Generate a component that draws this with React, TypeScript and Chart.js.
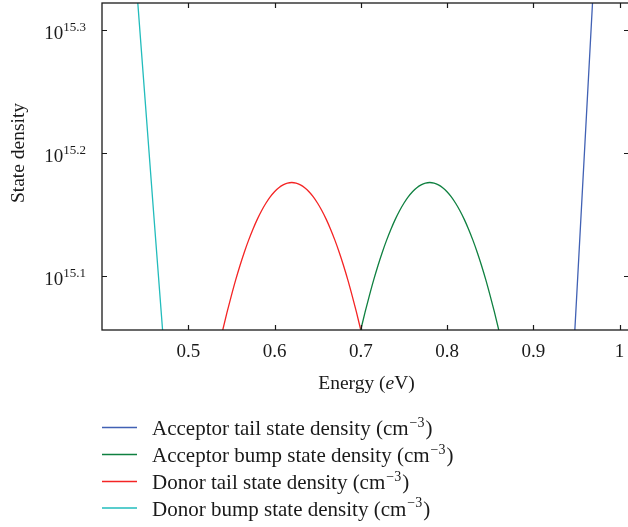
import React, { useEffect, useRef } from 'react';
import { Chart, registerables } from 'chart.js';

Chart.register(...registerables);

// ---- data (energy in eV, density as log10 exponent) ----
const acceptorTailE = [0.94, 0.95, 0.96, 0.97, 0.98];
const acceptorTailLog = [14.95, 15.079, 15.209, 15.339, 15.469];

const acceptorBumpE = [
  0.7, 0.705, 0.71, 0.715, 0.72, 0.725, 0.73, 0.735, 0.74, 0.745, 0.75, 0.755, 0.76, 0.765, 0.77, 0.775,
  0.78, 0.785, 0.79, 0.795, 0.8, 0.805, 0.81, 0.815, 0.82, 0.825, 0.83, 0.835, 0.84, 0.845, 0.85, 0.855, 0.86, 0.865,
];
const acceptorBumpLog = [
  15.056, 15.0705, 15.084, 15.0968, 15.1085, 15.1193, 15.1291, 15.138, 15.146, 15.153, 15.1591, 15.1643, 15.1685, 15.1718, 15.1741, 15.1755,
  15.176, 15.1755, 15.1741, 15.1718, 15.1685, 15.1643, 15.1591, 15.153, 15.146, 15.138, 15.1291, 15.1193, 15.1085, 15.0968, 15.084, 15.0705, 15.056, 15.0405,
];

const donorTailE = [
  0.535, 0.54, 0.545, 0.55, 0.555, 0.56, 0.565, 0.57, 0.575, 0.58, 0.585, 0.59, 0.595, 0.6, 0.605, 0.61, 0.615,
  0.62, 0.625, 0.63, 0.635, 0.64, 0.645, 0.65, 0.655, 0.66, 0.665, 0.67, 0.675, 0.68, 0.685, 0.69, 0.695, 0.7,
];
const donorTailLog = [
  15.0405, 15.056, 15.0705, 15.084, 15.0968, 15.1085, 15.1193, 15.1291, 15.138, 15.146, 15.153, 15.1591, 15.1643, 15.1685, 15.1718, 15.1741, 15.1755,
  15.176, 15.1755, 15.1741, 15.1718, 15.1685, 15.1643, 15.1591, 15.153, 15.146, 15.138, 15.1291, 15.1193, 15.1085, 15.0968, 15.084, 15.0705, 15.056,
];

const donorBumpE = [0.43, 0.44, 0.45, 0.46, 0.47, 0.48];
const donorBumpLog = [15.429, 15.336, 15.243, 15.15, 15.058, 14.965];

const seriesNames = [
  'Acceptor tail state density',
  'Acceptor bump state density',
  'Donor tail state density',
  'Donor bump state density',
];
const seriesColors = ['#4161b4', '#0f8040', '#f42424', '#22bcbc'];

const xTickValues = [0.5, 0.6, 0.7, 0.8, 0.9, 1.0];
const xTickLabels = ['0.5', '0.6', '0.7', '0.8', '0.9', '1'];
const yTickValues = [15.1, 15.2, 15.3];
const yTickExponents = ['15.1', '15.2', '15.3'];

const X_MIN = 0.4;
const X_MAX = 1.011;
const Y_MIN = 15.056;
const Y_MAX = 15.322;

const FONT = '"Liberation Serif", "DejaVu Serif", serif';

const pairs = (xs: number[], ys: number[]) => xs.map((x, i) => ({ x, y: ys[i] }));

const decorPlugin = {
  id: 'decor',
  afterDraw(chart: any) {
    const ctx = chart.ctx as CanvasRenderingContext2D;
    const { left, right, top, bottom } = chart.chartArea;
    const xs = chart.scales.x;
    const ys = chart.scales.y;
    ctx.save();
    // frame
    ctx.strokeStyle = '#1a1a1a';
    ctx.lineWidth = 1.3;
    ctx.strokeRect(left, top, right - left, bottom - top);
    // ticks (inward)
    const tl = 5;
    ctx.lineWidth = 1.2;
    ctx.beginPath();
    xTickValues.forEach((v) => {
      const px = Math.round(xs.getPixelForValue(v)) + 0.5;
      ctx.moveTo(px, bottom);
      ctx.lineTo(px, bottom - tl);
      ctx.moveTo(px, top);
      ctx.lineTo(px, top + tl);
    });
    yTickValues.forEach((v) => {
      const py = Math.round(ys.getPixelForValue(v)) + 0.5;
      ctx.moveTo(left, py);
      ctx.lineTo(left + tl, py);
      ctx.moveTo(right, py);
      ctx.lineTo(right - tl, py);
    });
    ctx.stroke();

    ctx.fillStyle = '#1a1a1a';
    // x tick labels
    ctx.font = `19px ${FONT}`;
    ctx.textAlign = 'center';
    ctx.textBaseline = 'middle';
    xTickValues.forEach((v, i) => {
      ctx.fillText(xTickLabels[i], xs.getPixelForValue(v), bottom + 22);
    });
    // x title
    ctx.textAlign = 'left';
    ctx.textBaseline = 'alphabetic';
    const fs = '19.5px';
    const t1 = 'Energy (';
    const t2 = 'e';
    const t3 = 'V)';
    ctx.font = `${fs} ${FONT}`;
    const w1 = ctx.measureText(t1).width;
    const w3 = ctx.measureText(t3).width;
    ctx.font = `italic ${fs} ${FONT}`;
    const w2 = ctx.measureText(t2).width;
    const cx = 366.5;
    let sx = cx - (w1 + w2 + w3) / 2;
    const ty = bottom + 59;
    ctx.font = `${fs} ${FONT}`;
    ctx.fillText(t1, sx, ty);
    sx += w1;
    ctx.font = `italic ${fs} ${FONT}`;
    ctx.fillText(t2, sx, ty);
    sx += w2;
    ctx.font = `${fs} ${FONT}`;
    ctx.fillText(t3, sx, ty);

    // y tick labels: 10^exp
    yTickValues.forEach((v, i) => {
      const py = ys.getPixelForValue(v);
      ctx.font = `13px ${FONT}`;
      const we = ctx.measureText(yTickExponents[i]).width;
      ctx.font = `19px ${FONT}`;
      const wb = ctx.measureText('10').width;
      const endX = left - 16;
      ctx.textAlign = 'left';
      ctx.fillText('10', endX - we - wb, py + 9);
      ctx.font = `13px ${FONT}`;
      ctx.fillText(yTickExponents[i], endX - we, py + 1);
    });

    // y title
    ctx.save();
    ctx.translate(24, 153);
    ctx.rotate(-Math.PI / 2);
    ctx.font = `19.5px ${FONT}`;
    ctx.textAlign = 'center';
    ctx.textBaseline = 'alphabetic';
    ctx.fillText('State density', 0, 0);
    ctx.restore();

    // legend
    const rows = [427.5, 454.5, 481.5, 508];
    seriesNames.forEach((name, i) => {
      const y = rows[i];
      ctx.strokeStyle = seriesColors[i];
      ctx.lineWidth = 1.5;
      ctx.beginPath();
      ctx.moveTo(102, y);
      ctx.lineTo(137, y);
      ctx.stroke();
      ctx.fillStyle = '#1a1a1a';
      ctx.textAlign = 'left';
      ctx.font = `21px ${FONT}`;
      const base = y + 7.5;
      let x = 152;
      const main = name + ' (cm';
      ctx.fillText(main, x, base);
      x += ctx.measureText(main).width + 1;
      ctx.font = `14px ${FONT}`;
      const sup = '\u22123';
      ctx.fillText(sup, x, base - 8.5);
      x += ctx.measureText(sup).width + 1;
      ctx.font = `21px ${FONT}`;
      ctx.fillText(')', x, base);
    });
    ctx.restore();
  },
};

export default function App() {
  const ref = useRef<HTMLCanvasElement | null>(null);
  useEffect(() => {
    if (!ref.current) return;
    const chart = new Chart(ref.current, {
      type: 'line',
      data: {
        datasets: [
          { label: seriesNames[0], data: pairs(acceptorTailE, acceptorTailLog), borderColor: seriesColors[0] },
          { label: seriesNames[1], data: pairs(acceptorBumpE, acceptorBumpLog), borderColor: seriesColors[1] },
          { label: seriesNames[2], data: pairs(donorTailE, donorTailLog), borderColor: seriesColors[2] },
          { label: seriesNames[3], data: pairs(donorBumpE, donorBumpLog), borderColor: seriesColors[3] },
        ].map((d) => ({ ...d, borderWidth: 1.3, pointRadius: 0, cubicInterpolationMode: 'monotone', fill: false })),
      },
      options: {
        animation: false,
        responsive: false,
        devicePixelRatio: 1,
        layout: { padding: { left: 102, top: 3, right: 1, bottom: 197 } },
        plugins: { legend: { display: false }, tooltip: { enabled: false } },
        scales: {
          x: { type: 'linear', min: X_MIN, max: X_MAX, display: false },
          y: { type: 'linear', min: Y_MIN, max: Y_MAX, display: false },
        },
      },
      plugins: [decorPlugin],
    } as any);
    return () => chart.destroy();
  }, []);
  return (
    <div style={{ position: 'absolute', left: 0, top: 0, width: 628, height: 527, overflow: 'hidden', background: '#fff' }}>
      <canvas ref={ref} width={630} height={527} style={{ display: 'block' }} />
    </div>
  );
}
